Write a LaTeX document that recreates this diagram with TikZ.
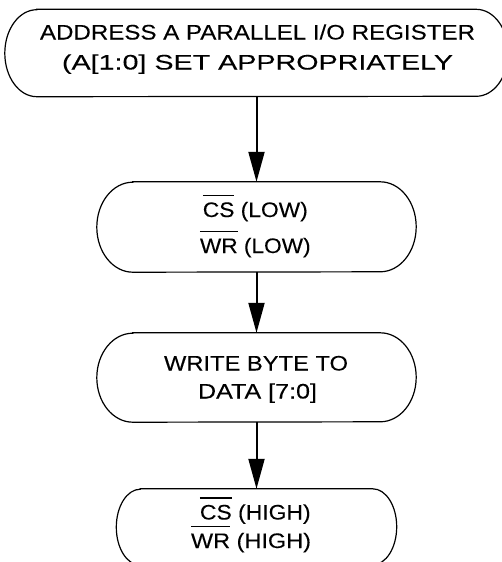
\documentclass[tikz,border=0pt]{standalone}
\usepackage{fontspec}
\setmainfont{Liberation Sans}[FakeBold=0.15]
\usetikzlibrary{arrows.meta}
\newcommand\barred[1]{\setbox0\hbox{#1}\rlap{\rule[21pt]{\wd0}{1.4pt}}\box0\relax}
\newcommand\fitline[2]{\resizebox{#1pt}{\height}{#2}}
\newcommand\stadium[3]{%
  \draw[outline] ([xshift=#2pt]#1.north west) -- ([xshift=-#2pt]#1.north east)
    arc[start angle=90,end angle=-90,x radius=#2pt,y radius=#3pt]
    -- ([xshift=#2pt]#1.south west)
    arc[start angle=270,end angle=90,x radius=#2pt,y radius=#3pt] -- cycle;}
\begin{document}
\begin{tikzpicture}[x=1pt,y=-1pt,
  outline/.style={line width=1.2pt},
  arr/.style={line width=2pt,-{Triangle[length=30pt,width=16pt]}},
  box/.style={draw=none,inner sep=0pt,shape=rectangle},
  txt/.style={anchor=base,inner sep=0pt,font=\fontsize{21}{24}\selectfont}]
\useasboundingbox (0,0) rectangle (501,562);
\node[box,minimum width=503pt,minimum height=87pt] (b1) at (256.5,53) {};
\node[box,minimum width=319pt,minimum height=90pt] (b2) at (256.5,227) {};
\node[box,minimum width=319pt,minimum height=89pt] (b3) at (256.5,377.5) {};
\node[box,minimum width=280pt,minimum height=76pt] (b4) at (256.5,527) {};
\stadium{b1}{32}{43.5}
\stadium{b2}{36}{45}
\stadium{b3}{36}{44.5}
\stadium{b4}{24}{38}
\node[txt] (t1a) at (257.5,39.5) {\fitline{435}{ADDRESS A PARALLEL I/O REGISTER}};
\node[txt] (t1b) at (257.5,69.5) {\fitline{391}{(A[1:0] SET APPROPRIATELY}};
\node[txt] (t2a) at (255.3,217) {\fitline{105}{\barred{CS} (LOW)}};
\node[txt] (t2b) at (255.3,253) {\fitline{110.7}{\barred{WR} (LOW)}};
\node[txt] (t3a) at (256,370.5) {\fitline{184}{WRITE BYTE TO}};
\node[txt] (t3b) at (257.5,398.5) {\fitline{119}{DATA [7:0]}};
\node[txt] (t4a) at (255.3,519.5) {\fitline{110.7}{\barred{CS} (HIGH)}};
\node[txt] (t4b) at (251,548) {\fitline{120}{\barred{WR} (HIGH)}};
\draw[arr] (b1.south) -- (b2.north);
\draw[arr] (b2.south) -- (b3.north);
\draw[arr] (b3.south) -- (b4.north);
\end{tikzpicture}
\end{document}
